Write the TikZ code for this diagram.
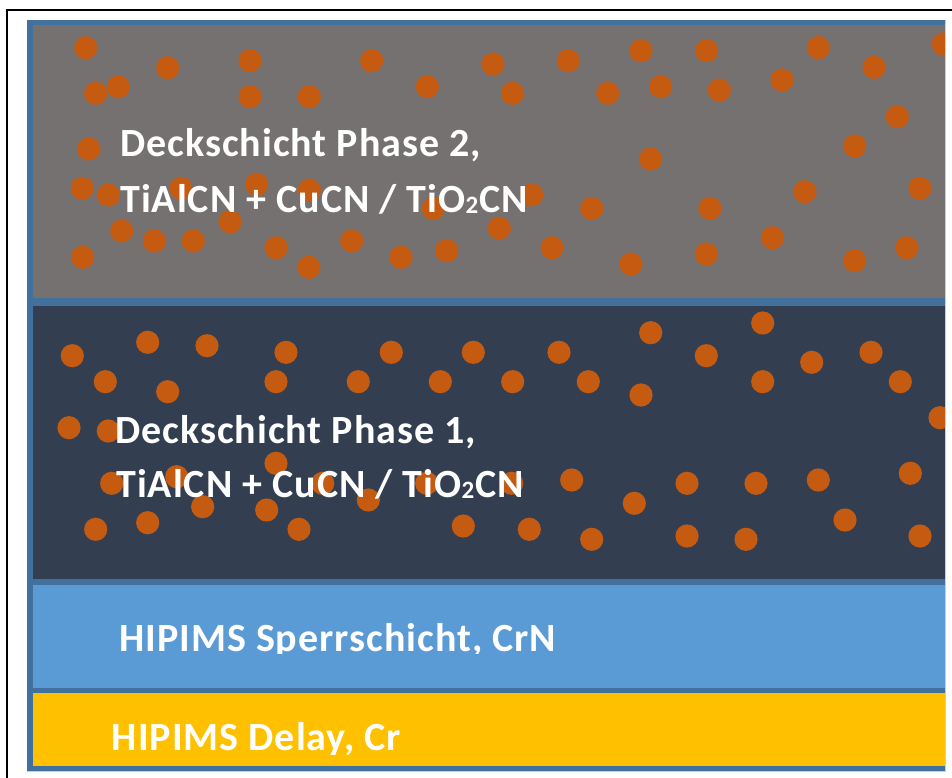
\documentclass[tikz,border=0pt]{standalone}
\usepackage{fontspec}
\setmainfont{Carlito}
\newfontfamily\lblfont[LetterSpace=2.5]{Carlito}
\definecolor{bordc}{HTML}{41719C}
\definecolor{greyc}{HTML}{767171}
\definecolor{darkc}{HTML}{333F50}
\definecolor{bluec}{HTML}{5B9BD5}
\definecolor{yelc}{HTML}{FFC000}
\definecolor{dotc}{HTML}{C55A11}
\definecolor{edgec}{HTML}{C9CED6}
\newcommand{\subtwo}{{\fontsize{25}{25}\selectfont\raisebox{-1pt}{2}\kern1pt}}
\tikzset{
  lbl/.style={anchor=base west, inner sep=0pt, text=white, font=\lblfont\fontsize{40}{40}\selectfont\bfseries},
  dotstyle/.style={fill=dotc}
}
\begin{document}
\begin{tikzpicture}[x=1pt,y=-1pt]
\useasboundingbox (0,0) rectangle (952,778);
\fill[white] (0,0) rectangle (952,778);
% outer black frame (cropped at right and bottom)
\draw[black, line width=2pt] (7,790) -- (7,10) -- (960,10);
\begin{scope}
\clip (0,0) rectangle (945,778);
% border colour background
\fill[bordc] (27,20) rectangle (960,771);
% layers
\fill[greyc] (33,25) rectangle (960,297.5);
\fill[darkc] (33,306) rectangle (960,579);
\fill[bluec] (33,585) rectangle (960,688);
\fill[yelc] (33,693) rectangle (960,766);
% dots, top layer
\foreach \x/\y in {85.7/47.7,167.7/67.7,250/60.7,371.7/60.7,95.7/93.3,118.3/86.7,250/96.7,309.3/96.7,427.3/86.7,89/149,82.3/188.3,108.3/195,181/188.3,256.7/184.3,309.3/190,433.3/208.3,230/221.7,121.7/231,154.3/241,193.3/241,276/247.7,351.7/241,82.7/257.3,309/267.3,401/257.3,446.7/250.7,
493/64,568.3/60.7,641/50.7,706.7/50.7,818.3/47.7,943.3/44,512.7/93.3,607.7/93.3,660.7/86.7,719.3/90,782/80,874/67.3,897.3/116.7,854.7/146,650.7/159,531.7/195,591.7/208.3,710/208.3,805/191.7,920/188.3,499.3/228,552/247.7,631/264,706.3/254,772.3/237.7,854.7/260.7,907/247.7}
  \fill[dotstyle] (\x,\y) circle (11.6);
% dots, second layer
\foreach \x/\y in {72.3/355.7,147.7/342.3,207/345.7,286/352.3,391.3/352.3,473.3/352.3,105.3/381.7,167.7/391.7,276/381.7,358.3/381.7,440.3/381.7,69/427.7,108.3/431,276/463.3,111.7/483.3,176.7/476.7,322.7/483.3,426.7/483.3,202.7/506.7,266.7/510,368.3/500,95.7/529.3,147.7/522.7,299/529.3,463.3/526,
559/352.3,650.7/332.7,762.7/323,706.3/355.7,811.7/362.3,871/352.3,512.7/381.7,588.3/381.7,641/395,762.7/381.7,900.3/381.7,940/417.7,511.7/483.3,571.7/480,634.3/503.3,687/483.3,756/483.3,818.3/480,910.3/473.3,845/520,529.3/529.3,591.7/539.3,687/536,746/539.3,920/536}
  \fill[dotstyle] (\x,\y) circle (11.6);
% labels
\node[lbl] (p2a) at (120,156.7) {Deckschicht Phase 2,};
\node[lbl] (p2b) at (120,212.7) {TiAlCN + CuCN / TiO\subtwo CN};
\node[lbl] (p1a) at (115,443.3) {Deckschicht Phase 1,};
\node[lbl] (p1b) at (116,497.7) {TiAlCN + CuCN / TiO\subtwo CN};
\begin{scope}
\clip (33,585) rectangle (945,653);
\node[lbl] (sp) at (119,651.7) {HIPIMS Sperrschicht, CrN};
\end{scope}
\begin{scope}
\clip (33,693) rectangle (945,754);
\node[lbl] (dl) at (111.7,750) {HIPIMS Delay, Cr};
\end{scope}
\end{scope}
% faint edges
\draw[edgec, line width=1pt] (945.5,20) -- (945.5,772);
\draw[edgec, line width=1pt] (27,771.8) -- (946,771.8);
\end{tikzpicture}
\end{document}
